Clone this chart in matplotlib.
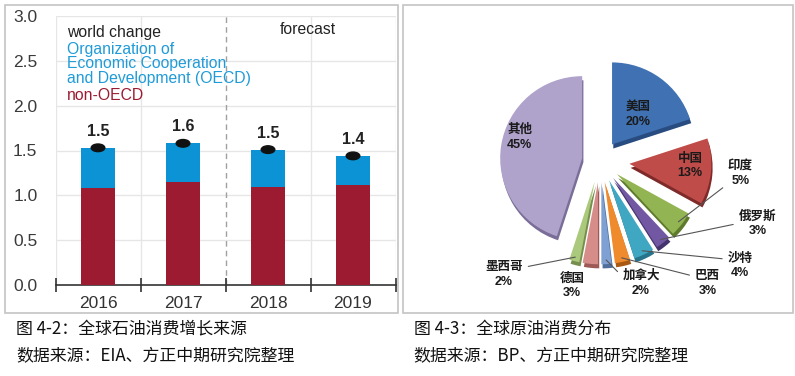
import matplotlib.pyplot as plt
from matplotlib.patches import Rectangle, Ellipse
import numpy as np

plt.rcParams['font.family'] = ['Liberation Sans', 'Noto Sans CJK SC', 'DejaVu Sans']

# left chart: world oil consumption growth (million b/d)
years = ['2016', '2017', '2018', '2019']
non_oecd = [1.08, 1.15, 1.09, 1.12]
oecd = [0.45, 0.43, 0.42, 0.32]
world = [1.53, 1.58, 1.51, 1.44]
world_labels = ['1.5', '1.6', '1.5', '1.4']

# right chart: share of global crude consumption
countries = ['美国', '中国', '印度', '俄罗斯', '沙特', '巴西', '加拿大', '德国', '墨西哥', '其他']
shares = [20, 13, 5, 3, 4, 3, 2, 3, 2, 45]

W, H = 795, 376
fig = plt.figure(figsize=(W / 100, H / 100), dpi=100)


def px(x0, y0, x1, y1):
    # pixel box (top-left origin) -> figure fraction rect
    return [x0 / W, 1 - y1 / H, (x1 - x0) / W, (y1 - y0) / H]


# panel frames
for x0, x1 in [(5, 398), (403, 793)]:
    r = px(x0, 5, x1, 313)
    fig.patches.append(Rectangle((r[0], r[1]), r[2], r[3], transform=fig.transFigure,
                                 fill=False, edgecolor='#c4c4c4', linewidth=1.2))

# ---------------- left: stacked bars ----------------
ax = fig.add_axes(px(55.5, 16, 395.5, 285))
x = np.arange(len(years))
blue = '#0b93d5'
red = '#9c1b31'
ax.bar(x, non_oecd, width=0.4, color=red, zorder=3)
ax.bar(x, oecd, width=0.4, bottom=non_oecd, color=blue, zorder=3)
for xi, v, lab in zip(x, world, world_labels):
    ax.add_patch(Ellipse((xi, v), 0.16, 0.085, color='#111111', zorder=4))
    ax.text(xi, v + 0.1, lab, ha='center', va='bottom', fontsize=11.5,
            fontweight='bold', color='#222222')

ax.set_xlim(-0.5, 3.5)
ax.set_ylim(0, 3.0)
ax.set_yticks(np.arange(0, 3.01, 0.5))
ax.set_yticklabels([f'{v:.1f}' for v in np.arange(0, 3.01, 0.5)], fontsize=12.5, color='#3a3a3a')
ax.tick_params(axis='y', length=0, pad=13)
ax.set_xticks(x)
ax.set_xticklabels(years, fontsize=12.5, color='#333333')
ax.tick_params(axis='x', which='major', length=0, pad=8)
bounds = np.arange(-0.5, 3.6, 1.0)
ax.set_xticks(bounds, minor=True)
ax.tick_params(axis='x', which='minor', direction='inout', length=10, width=1.2, color='#333333')
for yv in np.arange(0.5, 3.01, 0.5):
    ax.axhline(yv, color='#e6e6e6', linewidth=1, zorder=1)
for b in bounds:
    if b == 1.5:
        ax.axvline(b, color='#a0a0a0', linestyle=(0, (4, 3)), linewidth=1, zorder=1)
    else:
        ax.axvline(b, color='#e6e6e6', linewidth=1, zorder=1)
for s in ['top', 'right', 'left']:
    ax.spines[s].set_visible(False)
ax.spines['bottom'].set_color('#333333')
ax.spines['bottom'].set_linewidth(1.2)

ax.text(0.035, 0.94, 'world change', transform=ax.transAxes, fontsize=11.3,
        color='#222222', va='center')
oecd_txt = ['Organization of', 'Economic Cooperation', 'and Development (OECD)']
for i, t in enumerate(oecd_txt):
    ax.text(0.035, 0.877 - i * 0.054, t, transform=ax.transAxes, fontsize=11.3,
            color='#1f9bd8', va='center')
ax.text(0.035, 0.706, 'non-OECD', transform=ax.transAxes, fontsize=11.3,
        color=red, va='center')
ax.text(0.66, 0.95, 'forecast', transform=ax.transAxes, fontsize=11.3,
        color='#222222', va='center')

# ---------------- right: exploded pie ----------------
R = 82.0
L = 150.0
cx, cy = 600, 161
pax = fig.add_axes(px(cx - L, cy - L, cx + L, cy + L))
colors = ['#3f71b3', '#c04c49', '#93b452', '#7258a3', '#40a7c2',
          '#f08b2d', '#7fa0d2', '#d68d8a', '#abc97c', '#afa2cb']
shadow = ['#284c80', '#7e2a28', '#5e7a2c', '#45336c', '#25748a',
          '#a85a14', '#4f6e9d', '#9c5956', '#768f4d', '#7a6e98']
explode = [0.25, 0.36, 0.26, 0.26, 0.26, 0.26, 0.26, 0.26, 0.26, 0.22]

pax.pie(shares, startangle=90, counterclock=False, colors=shadow, explode=explode,
        center=(0.015, -0.05), wedgeprops=dict(linewidth=0))
wedges, _ = pax.pie(shares, startangle=90, counterclock=False, colors=colors,
                    explode=explode, wedgeprops=dict(linewidth=0))
pax.set_xlim(-L / R, L / R)
pax.set_ylim(-L / R, L / R)
pax.set_aspect('equal')
pax.axis('off')

# label positions (in pie radius units) and leader settings
label_pos = [(0.46, 0.57), (1.10, -0.06), (1.71, -0.15), (1.92, -0.76), (1.71, -1.28),
             (1.31, -1.49), (0.50, -1.49), (-0.34, -1.52), (-1.17, -1.38), (-0.98, 0.29)]
leader = [None, None, (0.0, 0.1), (0.0, 0.5), (0.0, 0.75), (0.0, 0.75),
          (0.0, 0.75), None, (1.0, 0.75), None]

for w, name, pct, pos, rel in zip(wedges, countries, shares, label_pos, leader):
    txt = f'{name}\n{pct}%'
    if rel is None:
        pax.text(pos[0], pos[1], txt, ha='center', va='center', fontsize=9,
                 fontweight='bold', color='#1a1a1a', linespacing=1.3, clip_on=False)
    else:
        ang = np.deg2rad((w.theta1 + w.theta2) / 2)
        c = w.center
        tip = (c[0] + 0.95 * np.cos(ang), c[1] + 0.95 * np.sin(ang))
        pax.annotate(txt, xy=tip, xytext=pos, ha='center', va='center', fontsize=9,
                     fontweight='bold', color='#1a1a1a', linespacing=1.3,
                     annotation_clip=False,
                     arrowprops=dict(arrowstyle='-', color='#555555', lw=0.8,
                                     relpos=rel, shrinkA=2, shrinkB=0))

# captions
cap_font = ['Noto Sans CJK SC', 'DejaVu Sans']
fig.text(16 / W, 1 - 329 / H, '图 4-2：全球石油消费增长来源', fontsize=12.2, family=cap_font,
         va='center', color='#111111')
fig.text(16 / W, 1 - 356 / H, '数据来源：EIA、方正中期研究院整理', fontsize=12.2, family=cap_font,
         va='center', color='#111111')
fig.text(414 / W, 1 - 329 / H, '图 4-3：全球原油消费分布', fontsize=12.2, family=cap_font,
         va='center', color='#111111')
fig.text(413 / W, 1 - 356 / H, '数据来源：BP、方正中期研究院整理', fontsize=12.2, family=cap_font,
         va='center', color='#111111')

fig.savefig('out.png', dpi=100)
